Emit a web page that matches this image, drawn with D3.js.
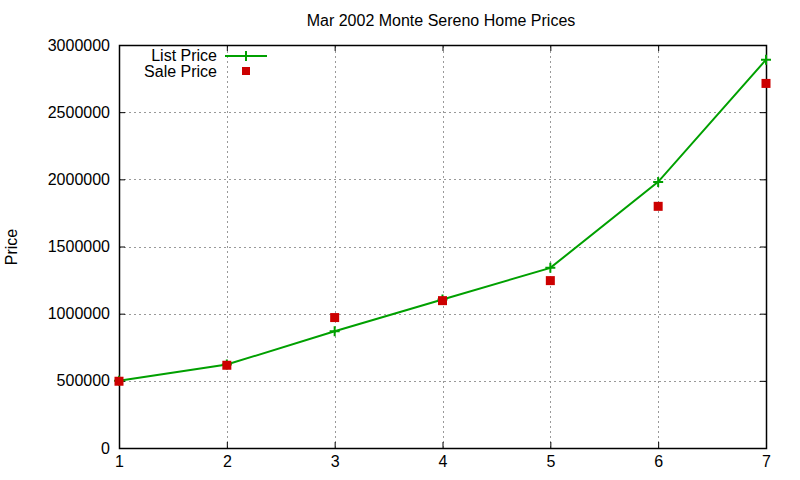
<!DOCTYPE html>
<html>
<head>
<meta charset="utf-8">
<script src="https://cdn.jsdelivr.net/npm/d3@7"></script>
<style>
  body { margin: 0; background: #fff; }
  text { font-family: "Liberation Sans", Arial, sans-serif; fill: #000; }
</style>
</head>
<body>
<div id="chart"></div>
<script>
// Data
const rooms = [1, 2, 3, 4, 5, 6, 7];
const listPrice = [500000, 621000, 869000, 1105000, 1341000, 1981000, 2891000];
const salePrice = [497000, 616000, 971000, 1097000, 1246000, 1799000, 2714000];
const yTicks = [0, 500000, 1000000, 1500000, 2000000, 2500000, 3000000];
const xTicks = [1, 2, 3, 4, 5, 6, 7];

const width = 800,
    height = 480;

const margin = { top: 45, bottom: 32, left: 119, right: 34 };

const green = "#00a000",
    red = "#cc0000";

const svg = d3.select("#chart")
    .append("svg")
    .attr("width", width)
    .attr("height", height);

const xScale = d3.scaleLinear()
    .domain([1, 7])
    .range([margin.left, width - margin.right]);

const yScale = d3.scaleLinear()
    .domain([0, 3000000])
    .range([height - margin.bottom, margin.top]);

const x0 = xScale.range()[0], x1 = xScale.range()[1];
const y0 = yScale.range()[0], y1 = yScale.range()[1];

// Grid lines (dotted)
svg.append("g")
    .selectAll("line")
    .data(yTicks.slice(1, -1))
    .enter().append("line")
    .attr("x1", x0).attr("x2", x1)
    .attr("y1", d => Math.round(yScale(d)) + 0.5)
    .attr("y2", d => Math.round(yScale(d)) + 0.5)
    .attr("stroke", "#999")
    .attr("stroke-dasharray", "2,3");

svg.append("g")
    .selectAll("line")
    .data(xTicks.slice(1, -1))
    .enter().append("line")
    .attr("y1", y0).attr("y2", y1)
    .attr("x1", d => Math.round(xScale(d)) + 0.5)
    .attr("x2", d => Math.round(xScale(d)) + 0.5)
    .attr("stroke", "#999")
    .attr("stroke-dasharray", "2,3");

// Axes with inward ticks, mirrored on top and right
const fmt = d3.format("d");
const axisFont = g => g.call(g => g.select(".domain").remove())
    .selectAll("text").style("font-size", "16px").style("font-family", "Liberation Sans, Arial, sans-serif");

svg.append("g")
    .attr("transform", `translate(${x0},0)`)
    .call(d3.axisLeft(yScale).tickValues(yTicks).tickFormat(fmt).tickSizeInner(-6).tickPadding(9))
    .call(axisFont);

svg.append("g")
    .attr("transform", `translate(${x1},0)`)
    .call(d3.axisRight(yScale).tickValues(yTicks).tickFormat("").tickSizeInner(-6))
    .call(g => g.select(".domain").remove());

svg.append("g")
    .attr("transform", `translate(0,${y0})`)
    .call(d3.axisBottom(xScale).tickValues(xTicks).tickFormat(fmt).tickSizeInner(-6).tickPadding(8))
    .call(axisFont);

svg.append("g")
    .attr("transform", `translate(0,${y1})`)
    .call(d3.axisTop(xScale).tickValues(xTicks).tickFormat("").tickSizeInner(-6))
    .call(g => g.select(".domain").remove());

// Frame
svg.append("rect")
    .attr("x", x0 + 0.5)
    .attr("y", y1 + 0.5)
    .attr("width", x1 - x0)
    .attr("height", y0 - y1)
    .attr("fill", "none")
    .attr("stroke", "#000")
    .attr("stroke-width", 1.5);

// List price line
const line = d3.line()
    .x((d, i) => xScale(rooms[i]))
    .y(d => yScale(d));

svg.append("path")
    .datum(listPrice)
    .attr("d", line)
    .attr("fill", "none")
    .attr("stroke", green)
    .attr("stroke-width", 2);

function drawPlus(g, x, y) {
    g.append("path")
        .attr("d", `M${x - 5},${y}H${x + 5}M${x},${y - 5}V${y + 5}`)
        .attr("stroke", green)
        .attr("stroke-width", 2);
}
listPrice.forEach((d, i) => drawPlus(svg, xScale(rooms[i]), yScale(d)));

// Sale price points
svg.append("g")
    .selectAll("rect")
    .data(salePrice)
    .enter().append("rect")
    .attr("x", (d, i) => xScale(rooms[i]) - 4.5)
    .attr("y", d => yScale(d) - 4.5)
    .attr("width", 9)
    .attr("height", 9)
    .attr("fill", red);

// Title
svg.append("text")
    .attr("x", 441)
    .attr("y", 26)
    .style("text-anchor", "middle")
    .style("font-size", "16px")
    .text("Mar 2002 Monte Sereno Home Prices");

// Y label
svg.append("text")
    .attr("transform", "translate(17,247) rotate(-90)")
    .style("text-anchor", "middle")
    .style("font-size", "16px")
    .text("Price");

// Legend
svg.append("text")
    .attr("x", 217).attr("y", 61)
    .style("text-anchor", "end")
    .style("font-size", "16px")
    .text("List Price");
svg.append("line")
    .attr("x1", 225).attr("x2", 267)
    .attr("y1", 56).attr("y2", 56)
    .attr("stroke", green)
    .attr("stroke-width", 2);
drawPlus(svg, 246, 56);

svg.append("text")
    .attr("x", 217).attr("y", 77)
    .style("text-anchor", "end")
    .style("font-size", "16px")
    .text("Sale Price");
svg.append("rect")
    .attr("x", 242).attr("y", 67)
    .attr("width", 8).attr("height", 8)
    .attr("fill", red);
</script>
</body>
</html>
